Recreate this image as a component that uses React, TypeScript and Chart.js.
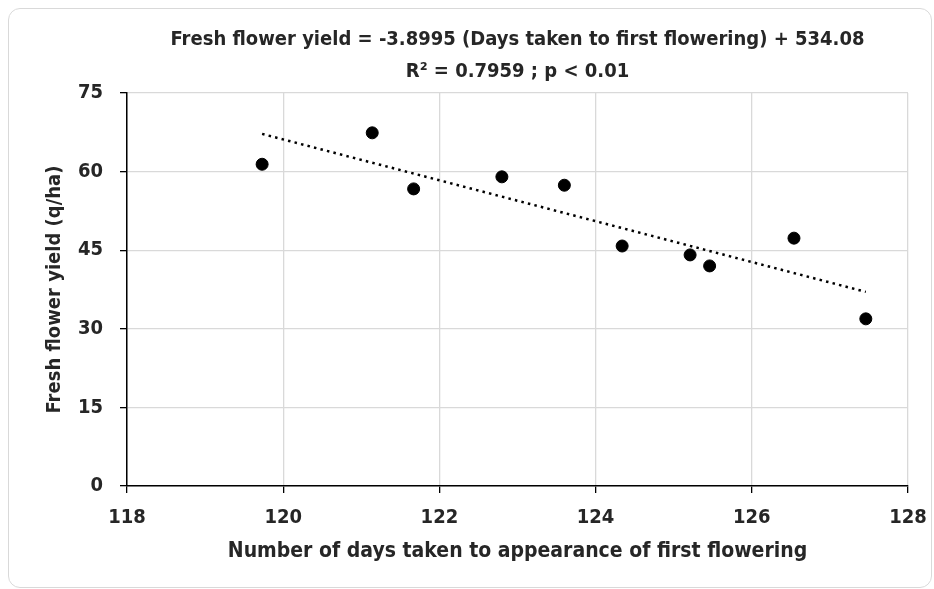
import React, { useEffect, useRef } from "react";
import { Chart, registerables } from "chart.js";

Chart.register(...registerables);

// Days taken to first flowering (x) and fresh flower yield in q/ha (y)
const daysToFlowering = [119.73, 121.14, 121.67, 122.8, 123.6, 124.34, 125.21, 125.46, 126.54, 127.46];
const flowerYield = [61.4, 67.4, 56.7, 59.0, 57.4, 45.8, 44.1, 42.0, 47.3, 31.9];

// Regression reported in the title
const slope = -3.8995;
const intercept = 534.08;

const xMin = 118;
const xMax = 128;
const xStep = 2;
const yMin = 0;
const yMax = 75;
const yStep = 15;

const titleLines = [
  "Fresh flower yield = -3.8995 (Days taken to first flowering) + 534.08",
  "R² = 0.7959 ; p < 0.01",
];
const xTitle = "Number of days taken to appearance of first flowering";
const yTitle = "Fresh flower yield (q/ha)";

const FONT = "'Liberation Sans Narrow', 'DejaVu Sans Condensed', 'Open Sans', sans-serif";
const TEXT = "#262626";

export default function App() {
  const ref = useRef<HTMLCanvasElement>(null);

  useEffect(() => {
    const canvas = ref.current;
    if (!canvas) return;
    const lo = Math.min(...daysToFlowering);
    const hi = Math.max(...daysToFlowering);
    const chart = new Chart(canvas, {
      type: "scatter",
      data: {
        datasets: [
          {
            data: daysToFlowering.map((x, i) => ({ x, y: flowerYield[i] })),
            backgroundColor: "#000",
            borderColor: "#000",
            pointRadius: 6,
            pointHoverRadius: 6,
            order: 1,
          },
          {
            type: "line",
            data: [
              { x: lo, y: slope * lo + intercept },
              { x: hi, y: slope * hi + intercept },
            ],
            borderColor: "#000",
            borderWidth: 2.5,
            borderDash: [2.5, 4.2],
            pointRadius: 0,
            fill: false,
            order: 2,
          } as any,
        ],
      },
      options: {
        animation: false,
        responsive: false,
        maintainAspectRatio: false,
        events: [],
        layout: { padding: { left: 8, right: 26, top: 0, bottom: 0 } },
        plugins: {
          legend: { display: false },
          tooltip: { enabled: false },
          title: {
            display: true,
            text: titleLines,
            fullSize: false,
            color: TEXT,
            font: { family: FONT, size: 20, weight: "bold", lineHeight: 32 / 20 },
            padding: { top: 24, bottom: 5 },
          },
        },
        scales: {
          x: {
            type: "linear",
            min: xMin,
            max: xMax,
            afterFit: (s: any) => {
              s.height = 103;
              s.paddingLeft = 0;
              s.paddingRight = 0;
            },
            ticks: {
              stepSize: xStep,
              color: TEXT,
              font: { family: FONT, size: 20, weight: "bold" },
              padding: 13,
              maxRotation: 0,
            },
            grid: { color: "#d9d9d9", lineWidth: 1.3, tickColor: "#000", tickLength: 7 },
            border: { color: "#000", width: 1.5 },
            title: {
              display: true,
              text: xTitle,
              color: TEXT,
              font: { family: FONT, size: 21, weight: "bold" },
              padding: { top: 0, bottom: 25 },
            },
          },
          y: {
            type: "linear",
            min: yMin,
            max: yMax,
            afterFit: (s: any) => {
              s.width = 119;
              s.paddingTop = 0;
              s.paddingBottom = 0;
            },
            ticks: {
              stepSize: yStep,
              color: TEXT,
              font: { family: FONT, size: 20, weight: "bold" },
              padding: 17,
            },
            grid: { color: "#d9d9d9", lineWidth: 1.3, tickColor: "#000", tickLength: 7 },
            border: { color: "#000", width: 1.5 },
            title: {
              display: true,
              text: yTitle,
              color: TEXT,
              font: { family: FONT, size: 20, weight: "bold" },
              padding: { top: 35, bottom: 0 },
            },
          },
        },
      },
    });
    return () => chart.destroy();
  }, []);

  return (
    <>
      <div
        style={{
          position: "fixed",
          left: 8,
          top: 8,
          width: 924,
          height: 580,
          boxSizing: "border-box",
          border: "1.5px solid #d9d9d9",
          borderRadius: 12,
        }}
      />
      <canvas
        ref={ref}
        width={934}
        height={589}
        style={{ position: "fixed", left: 0, top: 0, width: 934, height: 589 }}
      />
    </>
  );
}
